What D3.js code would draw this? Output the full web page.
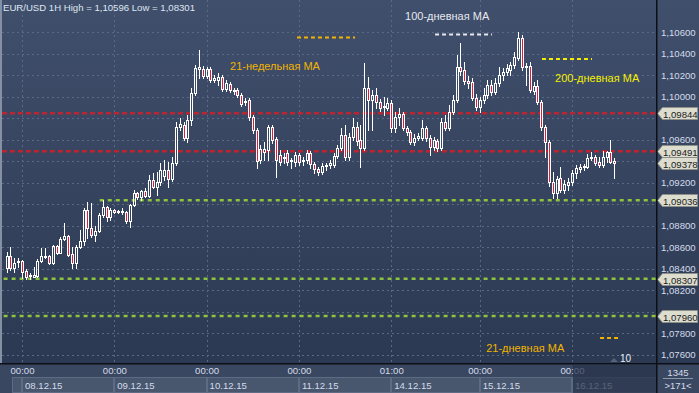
<!DOCTYPE html>
<html>
<head>
<meta charset="utf-8">
<script src="https://cdn.jsdelivr.net/npm/d3@7"></script>
<style>
  body { margin: 0; background: #2e3b55; }
  svg { display: block; font-family: "Liberation Sans", Arial, sans-serif; }
</style>
</head>
<body>
<script>
// EUR/USD 1H, 07.12.15 20:00 .. 16.12.15 11:00
const opens = [
  1.08406,1.08518,1.08406,1.08462,1.08472,1.08379,1.08332,1.08323,1.08332,1.08472,
  1.08509,1.08518,1.08453,1.08611,1.08546,1.08676,1.08704,1.08537,1.08453,1.08602,
  1.08658,1.08946,1.08778,1.08713,1.08750,1.08899,1.08974,1.08881,1.08946,1.08927,
  1.08927,1.08927,1.08843,1.08992,1.09104,1.09066,1.09122,1.09076,1.09225,1.09159,
  1.09206,1.09262,1.09317,1.09234,1.09382,1.09717,1.09736,1.09615,1.09782,1.10033,
  1.10256,1.10256,1.10191,1.10256,1.10154,1.10154,1.10182,1.10070,1.10117,1.10061,
  1.10061,1.10014,1.09959,1.09968,1.09810,1.09689,1.09410,1.09485,1.09503,1.09717,
  1.09606,1.09457,1.09429,1.09475,1.09401,1.09392,1.09457,1.09401,1.09410,1.09475,
  1.09373,1.09327,1.09299,1.09355,1.09364,1.09364,1.09448,1.09522,1.09643,1.09438,
  1.09624,1.09717,1.09596,1.09522,1.10080,1.09968,1.10014,1.09949,1.09903,1.09894,
  1.09940,1.09708,1.09810,1.09838,1.09708,1.09671,1.09578,1.09615,1.09615,1.09708,
  1.09615,1.09531,1.09587,1.09522,1.09764,1.09708,1.09856,1.09968,1.10275,1.10247,
  1.10145,1.10135,1.09987,1.09903,1.09968,1.10014,1.10107,1.10042,1.10126,1.10200,
  1.10228,1.10247,1.10293,1.10358,1.10544,1.10275,1.10284,1.10052,1.10098,1.09949,
  1.09717,1.09578,1.09206,1.09104,1.09243,1.09132,1.09178,1.09206,1.09290,1.09327,
  1.09345,1.09345,1.09429,1.09438,1.09392,1.09364,1.09438,1.09485,1.09401
];
const highs = [
  1.08555,1.08602,1.08499,1.08499,1.08481,1.08397,1.08360,1.08416,1.08490,1.08592,
  1.08592,1.08527,1.08620,1.08620,1.08695,1.08825,1.08713,1.08602,1.08620,1.08760,
  1.08964,1.09020,1.09011,1.08797,1.08918,1.09039,1.08983,1.08964,1.08955,1.08946,
  1.08964,1.08936,1.09001,1.09132,1.09113,1.09132,1.09150,1.09271,1.09290,1.09299,
  1.09382,1.09410,1.09392,1.09438,1.09764,1.09801,1.09764,1.09829,1.10080,1.10293,
  1.10433,1.10284,1.10275,1.10275,1.10200,1.10219,1.10200,1.10154,1.10135,1.10080,
  1.10080,1.10033,1.09987,1.09987,1.09829,1.09708,1.09550,1.09578,1.09736,1.09736,
  1.09624,1.09503,1.09475,1.09503,1.09429,1.09485,1.09475,1.09438,1.09503,1.09494,
  1.09392,1.09345,1.09382,1.09382,1.09410,1.09475,1.09550,1.09708,1.09736,1.09661,
  1.09801,1.09764,1.09736,1.10312,1.10182,1.10061,1.10080,1.09977,1.09996,1.09987,
  1.09968,1.09856,1.09894,1.09856,1.09726,1.09689,1.09652,1.09661,1.09782,1.09726,
  1.09643,1.09624,1.09606,1.09801,1.09829,1.09922,1.10014,1.10386,1.10498,1.10321,
  1.10191,1.10172,1.10024,1.09996,1.10080,1.10154,1.10154,1.10172,1.10275,1.10265,
  1.10303,1.10321,1.10414,1.10596,1.10572,1.10312,1.10321,1.10135,1.10154,1.09968,
  1.09736,1.09596,1.09299,1.09262,1.09345,1.09225,1.09243,1.09317,1.09364,1.09373,
  1.09373,1.09466,1.09485,1.09457,1.09438,1.09494,1.09494,1.09596,1.09429
];
const lows = [
  1.08369,1.08388,1.08369,1.08416,1.08313,1.08301,1.08304,1.08320,1.08323,1.08462,
  1.08499,1.08444,1.08444,1.08540,1.08543,1.08667,1.08518,1.08406,1.08406,1.08592,
  1.08620,1.08685,1.08695,1.08658,1.08741,1.08881,1.08843,1.08853,1.08918,1.08918,
  1.08908,1.08825,1.08788,1.08983,1.09048,1.09039,1.09066,1.09066,1.09150,1.09085,
  1.09178,1.09225,1.09159,1.09215,1.09364,1.09689,1.09596,1.09578,1.09736,1.10014,
  1.10172,1.10172,1.10172,1.10135,1.10135,1.10107,1.10052,1.10052,1.10042,1.10024,
  1.09996,1.09912,1.09922,1.09782,1.09661,1.09336,1.09382,1.09410,1.09410,1.09568,
  1.09252,1.09364,1.09382,1.09364,1.09336,1.09355,1.09364,1.09364,1.09382,1.09336,
  1.09290,1.09271,1.09280,1.09317,1.09336,1.09345,1.09429,1.09503,1.09410,1.09410,
  1.09596,1.09550,1.09345,1.09503,1.09689,1.09689,1.09894,1.09866,1.09829,1.09875,
  1.09671,1.09671,1.09736,1.09689,1.09643,1.09559,1.09550,1.09596,1.09596,1.09587,
  1.09457,1.09503,1.09494,1.09503,1.09689,1.09689,1.09838,1.09949,1.10200,1.10117,
  1.10080,1.09968,1.09875,1.09856,1.09940,1.09987,1.10014,1.10024,1.10098,1.10154,
  1.10200,1.10200,1.10265,1.10340,1.10247,1.10107,1.10042,1.10024,1.09931,1.09689,
  1.09438,1.09169,1.09057,1.09057,1.09113,1.09104,1.09132,1.09178,1.09243,1.09299,
  1.09317,1.09336,1.09410,1.09364,1.09345,1.09345,1.09392,1.09382,1.09243
];
const closes = [
  1.08518,1.08406,1.08453,1.08472,1.08369,1.08323,1.08341,1.08341,1.08472,1.08518,
  1.08518,1.08453,1.08611,1.08546,1.08676,1.08704,1.08527,1.08453,1.08602,1.08658,
  1.08946,1.08778,1.08713,1.08750,1.08899,1.08974,1.08881,1.08946,1.08927,1.08936,
  1.08936,1.08843,1.08992,1.09104,1.09066,1.09122,1.09076,1.09225,1.09159,1.09206,
  1.09317,1.09317,1.09234,1.09382,1.09717,1.09745,1.09615,1.09782,1.10033,1.10265,
  1.10275,1.10191,1.10256,1.10154,1.10172,1.10182,1.10070,1.10126,1.10061,1.10052,
  1.10014,1.09931,1.09949,1.09810,1.09689,1.09401,1.09513,1.09513,1.09717,1.09596,
  1.09410,1.09392,1.09438,1.09392,1.09410,1.09457,1.09392,1.09410,1.09475,1.09373,
  1.09327,1.09299,1.09355,1.09364,1.09382,1.09448,1.09522,1.09643,1.09438,1.09624,
  1.09717,1.09587,1.09522,1.10080,1.09968,1.10014,1.09949,1.09894,1.09912,1.09940,
  1.09708,1.09810,1.09838,1.09708,1.09671,1.09578,1.09615,1.09633,1.09708,1.09615,
  1.09531,1.09596,1.09522,1.09764,1.09708,1.09856,1.09968,1.10275,1.10238,1.10145,
  1.10126,1.09987,1.09903,1.09968,1.10014,1.10107,1.10042,1.10126,1.10200,1.10228,
  1.10265,1.10293,1.10368,1.10544,1.10275,1.10284,1.10061,1.10098,1.09949,1.09717,
  1.09578,1.09206,1.09104,1.09234,1.09132,1.09187,1.09206,1.09290,1.09336,1.09345,
  1.09355,1.09429,1.09438,1.09382,1.09364,1.09438,1.09485,1.09392,1.09378
];

// time axis (candle index of each label)
const tickIdx = [4, 28, 52, 76, 100, 123, 147];
const tickTimes = ["00:00", "00:00", "00:00", "00:00", "01:00", "00:00", "00:00"];
const tickDates = ["08.12.15", "09.12.15", "10.12.15", "11.12.15", "14.12.15", "15.12.15", "16.12.15"];

// price axis
const priceTicks = [1.076, 1.078, 1.080, 1.082, 1.084, 1.086, 1.088, 1.090,
                    1.092, 1.094, 1.096, 1.098, 1.100, 1.102, 1.104, 1.106];
const redLevels = [1.09844, 1.09491];
const greenLevels = [1.09036, 1.08307, 1.07960];
const greenFrom = [25, 0, 0];          // candle index where each green level starts
const tagValues = [1.09844, 1.09491, 1.09378, 1.09036, 1.08307, 1.07960];

// moving-average markers: name, price of the dashed mark, candle span
const maNames = ["21-недельная MA", "100-дневная MA", "200-дневная MA", "21-дневная MA"];
const maPrices = [1.10549, 1.10577, 1.10349, 1.07757];
const maFrom = [75.5, 111.4, 139.2, 154.3];
const maTo = [90.6, 126.2, 152.2, 159.0];

const title = "EUR/USD 1H High = 1,10596 Low = 1,08301";

const W = 699, H = 393;
const plotR = 656, plotB = 363;

const xs = d3.scaleLinear().domain([0, 169]).range([6.6, 656.6]);
const ys = d3.scaleLinear().domain([1.076, 1.106]).range([354.8, 32]);
const fmt = d => d.toFixed(5).replace(".", ",");

const svg = d3.select("body").append("svg")
  .attr("width", W).attr("height", H);

const defs = svg.append("defs");
const grad = defs.append("linearGradient").attr("id", "bg")
  .attr("x1", 0).attr("y1", 0).attr("x2", 0).attr("y2", 1);
grad.append("stop").attr("offset", 0).attr("stop-color", "#404f6c");
grad.append("stop").attr("offset", 1).attr("stop-color", "#2c3952");
defs.append("clipPath").attr("id", "plot")
  .append("rect").attr("x", 2).attr("y", 0).attr("width", plotR - 2).attr("height", plotB);

svg.append("rect").attr("width", W).attr("height", plotB).attr("fill", "url(#bg)");

// grid
const grid = svg.append("g").attr("shape-rendering", "crispEdges")
  .attr("stroke", "#5a6985").attr("stroke-dasharray", "2,3");
grid.selectAll(".h").data(priceTicks).join("line")
  .attr("x1", 2).attr("x2", plotR)
  .attr("y1", d => Math.round(ys(d)) + 0.5).attr("y2", d => Math.round(ys(d)) + 0.5);
grid.selectAll(".v").data(tickIdx).join("line")
  .attr("x1", d => Math.round(xs(d)) + 0.5).attr("x2", d => Math.round(xs(d)) + 0.5)
  .attr("y1", 0).attr("y2", plotB);

// left border
svg.append("rect").attr("x", 0).attr("y", 0).attr("width", 2).attr("height", plotB).attr("fill", "#8590a4");

const plot = svg.append("g").attr("clip-path", "url(#plot)");

// horizontal levels
plot.selectAll(".red").data(redLevels).join("line")
  .attr("x1", 2).attr("x2", plotR)
  .attr("y1", d => ys(d)).attr("y2", d => ys(d))
  .attr("stroke", "#be2430").attr("stroke-width", 2.5).attr("stroke-dasharray", "5,3");
plot.selectAll(".green").data(greenLevels).join("line")
  .attr("x1", (d, i) => Math.max(2, xs(greenFrom[i]) - 3)).attr("x2", plotR)
  .attr("y1", d => ys(d)).attr("y2", d => ys(d))
  .attr("stroke", "#8cc43c").attr("stroke-width", 2.5).attr("stroke-dasharray", "4,4");

// MA dashed marks
const maColors = ["#f2b400", "#e6e8ee", "#f4f000", "#f2b400"];
plot.selectAll(".ma").data(maPrices).join("line")
  .attr("x1", (d, i) => xs(maFrom[i])).attr("x2", (d, i) => xs(maTo[i]))
  .attr("y1", d => ys(d)).attr("y2", d => ys(d))
  .attr("stroke", (d, i) => maColors[i]).attr("stroke-width", 2).attr("stroke-dasharray", "4,3");

// MA labels (anchored on candle index / price)
const maLabelPos = [[58.1, 1.10247], [103.6, 1.10712], [142.6, 1.10135], [124.7, 1.07626]];
plot.selectAll(".malabel").data(maNames).join("text")
  .attr("x", (d, i) => xs(maLabelPos[i][0])).attr("y", (d, i) => ys(maLabelPos[i][1]))
  .attr("fill", (d, i) => maColors[i]).attr("font-size", 11).text(d => d);

// candles
const candles = d3.range(opens.length);
const cg = plot.append("g").attr("shape-rendering", "crispEdges");
const cx = i => Math.round(xs(i));
const bodyTop = i => Math.round(ys(Math.max(opens[i], closes[i])));
const bodyBot = i => Math.max(Math.round(ys(Math.min(opens[i], closes[i]))), bodyTop(i) + 1);
cg.selectAll(".wu").data(candles).join("line")
  .attr("x1", i => cx(i) + 0.5).attr("x2", i => cx(i) + 0.5)
  .attr("y1", i => Math.round(ys(highs[i]))).attr("y2", bodyTop)
  .attr("stroke", "#fff");
cg.selectAll(".wd").data(candles).join("line")
  .attr("x1", i => cx(i) + 0.5).attr("x2", i => cx(i) + 0.5)
  .attr("y1", bodyBot).attr("y2", i => Math.round(ys(lows[i])) + 1)
  .attr("stroke", "#fff");
cg.selectAll(".body").data(candles).join("rect")
  .attr("x", i => cx(i) - 0.5).attr("width", 2)
  .attr("y", i => bodyTop(i) + 0.5).attr("height", i => bodyBot(i) - bodyTop(i))
  .attr("fill", i => closes[i] < opens[i] ? "#dc1e3c" : "none")
  .attr("stroke", "#fff");

// title
svg.append("text").attr("x", 3).attr("y", 11).attr("font-size", 9.6)
  .attr("fill", "#dfe6f0").text(title);

// right axis: labels hidden where a price tag sits on top of them
const labelTicks = priceTicks.filter(p => tagValues.every(t => Math.abs(ys(p) - ys(t)) > 9));
const yAxis = svg.append("g").attr("transform", `translate(${plotR},0)`)
  .call(d3.axisRight(ys).tickValues(labelTicks).tickFormat(fmt).tickSize(0).tickPadding(5));
yAxis.select(".domain").remove();
yAxis.selectAll("text").attr("fill", "#d4dceb").attr("font-size", 9.6)
  .attr("font-family", "Liberation Sans, Arial, sans-serif");

// price tags
const tags = svg.append("g").selectAll("g").data(tagValues).join("g")
  .attr("transform", d => `translate(0,${Math.round(ys(d))})`);
tags.append("path")
  .attr("d", "M657.5,0.5 L662.5,-5.5 L697.5,-5.5 L697.5,6.5 L662.5,6.5 Z")
  .attr("fill", "#dcdccf").attr("stroke", "#8d8f88");
tags.append("text").attr("x", 663).attr("y", 4.5).attr("font-size", 9.6)
  .attr("fill", "#1c1c1c").text(fmt);

// separators
svg.append("rect").attr("x", plotR).attr("y", 0).attr("width", 1.5).attr("height", H).attr("fill", "#0c0f16");

// bottom axis band
const band = svg.append("g").attr("transform", `translate(0,${plotB})`);
band.append("rect").attr("width", W).attr("height", H - plotB).attr("fill", "#3a4760");
band.append("rect").attr("width", W).attr("height", 1.5).attr("fill", "#0c0f16");
const boxEdges = [1.5].concat(tickIdx, [169]);
band.selectAll(".box").data(d3.range(boxEdges.length - 1)).join("rect")
  .attr("x", k => Math.round(xs(boxEdges[k])) + 0.5).attr("y", 14.5)
  .attr("width", k => Math.round(xs(boxEdges[k + 1])) - Math.round(xs(boxEdges[k])) - 1)
  .attr("height", 15)
  .attr("fill", "#48566e").attr("stroke", "#5d6b84");
const xAxis = band.append("g")
  .call(d3.axisBottom(xs).tickValues(tickIdx).tickFormat((d, i) => tickTimes[i]).tickSize(0).tickPadding(4));
xAxis.select(".domain").remove();
xAxis.selectAll("text").attr("fill", "#d4dceb").attr("font-size", 9.6)
  .attr("font-family", "Liberation Sans, Arial, sans-serif");
band.selectAll(".date").data(tickDates).join("text")
  .attr("x", (d, i) => xs(tickIdx[i]) + 3).attr("y", 26)
  .attr("fill", "#d4dceb").attr("font-size", 9.6).text(d => d);
// future part of the time scale is dimmed
band.append("rect").attr("x", xs(tickIdx[6]) + 1).attr("y", 1.5)
  .attr("width", plotR - xs(tickIdx[6]) - 1).attr("height", H - plotB)
  .attr("fill", "#27324a").attr("opacity", 0.72);
band.append("rect").attr("x", plotR).attr("y", 0).attr("width", 1.5).attr("height", H - plotB).attr("fill", "#0c0f16");

// corner
svg.append("text").attr("x", 678).attr("y", 376).attr("text-anchor", "middle")
  .attr("font-size", 9.6).attr("fill", "#d4dceb").text("1345");
svg.append("line").attr("x1", 663).attr("x2", 693).attr("y1", 378.5).attr("y2", 378.5)
  .attr("stroke", "#8a96aa");
svg.append("text").attr("x", 678).attr("y", 389).attr("text-anchor", "middle")
  .attr("font-size", 9.6).attr("fill", "#d4dceb").text(">171<");

// bar count marker
svg.append("path").attr("d", "M610,362 L614,358 L618,362 Z").attr("fill", "#56617a");
svg.append("text").attr("x", 620).attr("y", 362).attr("font-size", 10)
  .attr("fill", "#e8edf5").text("10");
</script>
</body>
</html>
